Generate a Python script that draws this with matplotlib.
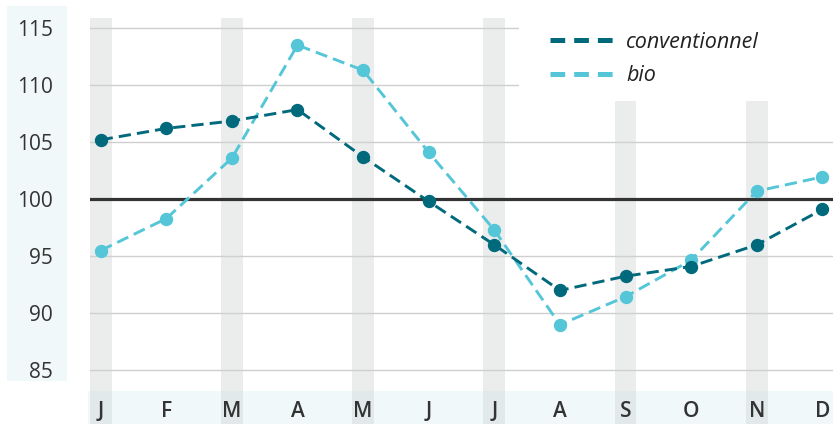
import matplotlib
matplotlib.use("Agg")
import matplotlib.pyplot as plt
from matplotlib.patches import Rectangle
from matplotlib.lines import Line2D

# ---- data ----
months = ["J", "F", "M", "A", "M", "J", "J", "A", "S", "O", "N", "D"]
conventionnel = [105.2, 106.2, 106.85, 107.85, 103.7, 99.8, 96.0, 92.0, 93.25, 94.1, 96.0, 99.1]
bio = [95.5, 98.3, 103.6, 113.5, 111.3, 104.1, 97.3, 89.0, 91.45, 94.65, 100.7, 101.95]
yticks = [85, 90, 95, 100, 105, 110, 115]
shaded_months = [0, 2, 4, 6, 8, 10]
series_labels = ["conventionnel", "bio"]

C_CONV = "#006a7c"
C_BIO = "#55c5d8"
TXT = "#333333"
BAND = "#f1f8fa"

plt.rcParams["font.family"] = ["Open Sans", "DejaVu Sans"]

W, H = 833, 424
fig = plt.figure(figsize=(W / 100, H / 100), dpi=100)

def px(x0, y0, x1, y1):
    """figure-fraction rect from pixel box (top-left origin)"""
    return (x0 / W, 1 - y1 / H, (x1 - x0) / W, (y1 - y0) / H)

# background bands (behind axes)
for (x0, y0, x1, y1) in [(7, 5.7, 67, 381), (88, 391, 833, 424)]:
    l, b, w, h = px(x0, y0, x1, y1)
    fig.patches.append(Rectangle((l, b), w, h, transform=fig.transFigure,
                                 facecolor=BAND, edgecolor="none", zorder=-5))

ax = fig.add_axes(px(90, 18.3, 833, 391))
ax.set_facecolor("none")
xlim = (-0.163, 11.163)
ylim = (83.19, 115.85)
bar_bottom = 80.29

# vertical shaded bars (extend down through the month band)
ax.bar(shaded_months, [ylim[1] - bar_bottom] * len(shaded_months), bottom=bar_bottom,
       width=0.33, color="#cdd4d4", alpha=0.4, edgecolor="none", zorder=0.5, clip_on=False)

# gridlines
for v in yticks:
    if v == 100:
        ax.axhline(v, color="#333333", lw=2.3, zorder=2)
    else:
        ax.axhline(v, color="#cfcfcf", lw=1.0, zorder=1)

# white area behind legend
l, b, w, h = px(519, 0, 833, 100.7)
ax.add_patch(Rectangle((l, b), w, h, transform=fig.transFigure, facecolor="white",
                       edgecolor="none", zorder=1.5, clip_on=False))

x = list(range(len(months)))
ax.plot(x, conventionnel, color=C_CONV, lw=2.1, ls=(0, (4.2, 2.1)), marker="o",
        ms=8.6, zorder=4)
ax.plot(x, bio, color=C_BIO, lw=2.1, ls=(0, (4.2, 2.1)), marker="o",
        ms=8.6, zorder=3)

ax.set_xlim(*xlim)
ax.set_ylim(*ylim)
for s in ax.spines.values():
    s.set_visible(False)

ax.set_yticks(yticks)
ax.set_yticklabels([str(v) for v in yticks], fontsize=15, color=TXT)
ax.tick_params(axis="y", length=0, pad=26.5)
ax.set_xticks(x)
ax.set_xticklabels(months, fontsize=15, color=TXT, fontweight="semibold")
ax.tick_params(axis="x", length=0, pad=7)

handles = [Line2D([], [], color=C_CONV, lw=3.6, ls=(0, (2.94, 1.8))),
           Line2D([], [], color=C_BIO, lw=3.6, ls=(0, (2.94, 1.8)))]
leg = fig.legend(handles, series_labels, loc="upper left",
                 bbox_to_anchor=(550 / W, 1 - 31.5 / H), frameon=False,
                 prop={"style": "italic", "size": 15.5}, handlelength=3.0,
                 handletextpad=0.55, labelspacing=0.6, borderpad=0, borderaxespad=0)
for t in leg.get_texts():
    t.set_color("#222222")

fig.savefig("out.png", dpi=100)
